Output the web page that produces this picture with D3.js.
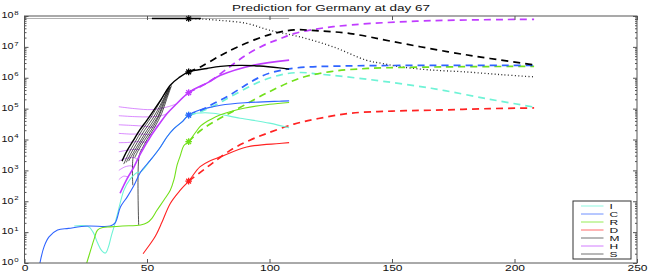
<!DOCTYPE html>
<html>
<head>
<meta charset="utf-8">
<title>Prediction for Germany at day 67</title>
<script src="https://cdn.jsdelivr.net/npm/d3@7"></script>
<style>
  * { margin: 0; padding: 0; }
  body { background: #fff; }
  svg { display: block; }
</style>
</head>
<body>
<script>
const title = 'Prediction for Germany at day 67'
const xTicks = [0, 50, 100, 150, 200, 250]
const yExps = [0, 1, 2, 3, 4, 5, 6, 7, 8]
const legendNames = ['I', 'C', 'R', 'D', 'M', 'H', 'S']
const markDay = 67

// observed / fitted curves, [day, count]
const iObs = [[20.3, 15.8], [26, 15.1], [28, 10], [29.8, 4.5], [31.5, 2.5], [33, 2.1], [34.2, 3.2], [35.5, 7.9], [37, 20], [38, 40], [40.6, 229], [43, 500], [46, 850], [47.4, 890], [51.4, 2140], [55, 5000], [58.2, 12300], [61, 22400], [64.3, 37200], [67, 61700], [72, 72400], [77, 70800], [88, 49000], [100, 33900], [108, 24000]]
const cObs = [[6.3, 1], [8, 3.4], [10, 7], [13.5, 11.7], [18, 13.2], [25.7, 15.8], [35, 15.8], [37, 20], [39.2, 66], [42, 141], [44.6, 316], [47.4, 890], [51.4, 2140], [55, 5000], [58.2, 12300], [61, 22400], [64.3, 37200], [67, 61700], [72, 93000], [77, 115000], [80, 129000], [90, 155000], [104, 174000], [108, 178000]]
const rObs = [[25.4, 1], [27, 2.6], [28.5, 6.3], [29.8, 11.7], [32, 14.1], [35, 14.8], [40, 15.8], [47.4, 17], [50, 20], [52, 28], [54, 50], [57, 112], [59.5, 229], [61, 500], [62.3, 1500], [63.6, 3000], [65, 6300], [67, 8500], [70, 17800], [72, 28000], [76, 44700], [80, 63000], [90, 105000], [100, 138000], [108, 158000]]
const dObs = [[48.4, 2], [52.7, 6], [54, 9.1], [56, 20], [59.5, 85], [63.6, 229], [67, 450], [71.7, 1320], [76, 2090], [80, 2750], [90.7, 5750], [104, 7400], [108, 7900]]
const mObs = [[39.8, 2000], [42, 4500], [44.5, 9500], [47, 20000], [50, 42700], [55.5, 186000], [59.5, 575000], [63, 1000000], [67, 1550000], [74.5, 2000000], [80, 2340000], [88, 2510000], [96, 2400000], [104, 2090000], [108, 1900000]]
const hObs = [[39, 182], [42, 562], [44.6, 1260], [47.4, 3550], [51.4, 12300], [55, 31600], [58.2, 69200], [62, 141000], [67, 331000], [75, 710000], [80, 1200000], [93, 2510000], [108, 3720000]]
const sObs = [[0, 8.3e7], [108, 8.3e7]]
const sFit = [[52, 8.3e7], [67, 8.3e7], [72, 8.3e7]]

// earlier fits (thin fans)
const mFan = [
  [[40.5, 1600], [42.5, 3500], [45, 8000], [48, 20000], [51.5, 50000], [55, 150000], [58.5, 450000]],
  [[41.5, 1800], [43.5, 3600], [46, 8000], [49, 20000], [52.5, 50000], [56, 160000], [59, 480000]],
  [[42.5, 2000], [44.5, 3800], [47, 8200], [50, 20000], [53.5, 52000], [56.5, 170000], [59, 480000]],
  [[44.2, 330], [44.4, 2800], [45.8, 4500], [48, 9000], [51, 21000], [54.5, 56000], [57, 180000], [59.5, 500000]],
  [[45, 2600], [46.5, 4500], [49, 9500], [52, 22000], [55, 60000], [57.5, 190000], [59.5, 500000]],
  [[46.6, 17], [46.8, 3000], [48, 5000], [50, 10000], [53, 24000], [56, 70000], [58, 200000], [60, 560000]]
]
const hFan = [
  [[38.5, 115000], [45, 100000], [52, 93000], [58, 112000], [62, 141000]],
  [[38.5, 59000], [45, 55000], [51, 54000], [55.5, 58000], [58.2, 69000]],
  [[38.5, 30000], [44, 28500], [49, 27000], [53, 25000], [55, 31600]],
  [[38.5, 15800], [43, 15000], [48, 15000], [51.5, 14500], [52.8, 18000]],
  [[38.5, 7900], [42, 8000], [46, 8500], [49.5, 8300], [50.8, 9800]],
  [[38.5, 4000], [42, 4500], [45.5, 4800], [48, 4500]],
  [[38.5, 2000], [41, 2400], [44.5, 2600], [46, 2300]],
  [[38.5, 1000], [41, 1300], [43.5, 1400], [44.6, 1260]],
  [[38.5, 500], [40.5, 650], [42.5, 600]]
]

// predictions from day 67
const iPred = [[67, 61700], [72, 80000], [78, 132000], [84, 240000], [96, 741000], [105, 1260000], [112.5, 1480000], [120, 1320000], [140, 891000], [166, 457000], [190, 200000], [208, 112000]]
const cPred = [[67, 61700], [72, 89000], [78, 158000], [84, 282000], [90, 562000], [95, 955000], [100, 1410000], [111, 2090000], [130, 2400000], [160, 2510000], [208, 2510000]]
const rPred = [[67, 8500], [72, 20000], [78, 40000], [86, 89000], [100, 355000], [113, 1000000], [125, 1580000], [140, 2000000], [170, 2240000], [208, 2340000]]
const dPred = [[67, 450], [72, 890], [77, 1780], [85, 5000], [92, 9500], [99, 15800], [110, 31600], [120, 47900], [133, 70800], [150, 83200], [167, 89100], [190, 100000], [208, 105000]]
const mPred = [[67, 1550000], [72, 2290000], [80, 5250000], [87, 1e7], [100, 2.5e7], [110, 3.55e7], [120, 3.3e7], [133, 2.7e7], [150, 1.5e7], [173, 6.9e6], [190, 4.2e6], [208, 2.6e6]]
const hPred = [[67, 331000], [75, 710000], [82, 1780000], [90.7, 5600000], [99, 1.26e7], [104, 1.78e7], [110, 2.7e7], [126, 4.5e7], [160, 6.8e7], [208, 7.8e7]]
const sPred = [[67, 8.3e7], [73, 7.9e7], [80, 7.2e7], [90.7, 5.75e7], [100, 3.47e7], [112.5, 2.1e7], [126, 1e7], [139.5, 3.7e6], [146, 2.9e6], [153, 2.3e6], [165, 1.8e6], [180, 1.55e6], [195, 1.25e6], [208, 1.07e6]]

const colors = { I: '#6ff3d6', C: '#2f64ff', R: '#72e01a', D: '#ff2222', M: '#000000', H: '#c03cff', S: '#000000' }
const legendColors = { I: '#8ff7e0', C: '#6f90ff', R: '#96ec55', D: '#ff6a6a', M: '#707070', H: '#d27cff', S: '#707070' }

var w = 654
var h = 273
var box = { l: 24.5, r: 637, t: 16, b: 263 }

var svg = d3.select('body').append('svg').attr('width', w).attr('height', h)
  .attr('font-family', '"Liberation Sans", Arial, sans-serif')

var x = d3.scaleLinear().domain([0, 250]).range([box.l, box.r])
var y = d3.scaleLog().domain([1, 1e8]).range([box.b, box.t])

var line = d3.line()
  .x(d => x(d[0]))
  .y(d => y(d[1]))
  .curve(d3.curveCatmullRom.alpha(0.5))

svg.append('clipPath').attr('id', 'clip')
  .append('rect').attr('x', box.l).attr('y', box.t - 1)
  .attr('width', box.r - box.l).attr('height', box.b - box.t + 1)

var plot = svg.append('g').attr('clip-path', 'url(#clip)')

function draw(data, color, width, dash, op) {
  plot.append('path')
    .datum(data)
    .attr('d', line)
    .attr('fill', 'none')
    .attr('stroke', color)
    .attr('stroke-width', width)
    .attr('stroke-dasharray', dash || null)
    .attr('stroke-linejoin', 'round')
    .attr('opacity', op || 1)
}

// thin fans of the earlier fits
hFan.forEach(f => draw(f, colors.H, 0.8, null, 0.75))
mFan.forEach(f => draw(f, colors.M, 0.8, null, 0.85))

// the gray susceptible line from the start
draw(sObs, '#9a9a9a', 0.8)

// predictions
var dash = '7,5'
draw(sPred, '#222', 1.3, '1,2.4')
draw(iPred, colors.I, 1.7, dash)
draw(dPred, colors.D, 1.7, dash)
draw(rPred, colors.R, 1.7, dash)
draw(cPred, colors.C, 1.7, dash)
draw(hPred, colors.H, 1.7, dash)
draw(mPred, colors.M, 1.7, dash)

// observed / fitted
draw(iObs, colors.I, 1.1)
draw(cObs, colors.C, 1.1)
draw(rObs, colors.R, 1.1)
draw(dObs, colors.D, 1.1)
draw(hObs, colors.H, 1.6)
draw(mObs, colors.M, 1.4)
draw(sFit, colors.S, 1.5)

// star markers at the prediction day
var star = {
  draw(ctx, size) {
    var r = Math.sqrt(size) / 2
    var q = r * 0.72
    ctx.moveTo(-r, 0); ctx.lineTo(r, 0)
    ctx.moveTo(0, -r); ctx.lineTo(0, r)
    ctx.moveTo(-q, -q); ctx.lineTo(q, q)
    ctx.moveTo(-q, q); ctx.lineTo(q, -q)
  }
}
var series = { I: iObs, C: cObs, R: rObs, D: dObs, M: mObs, H: hObs, S: sFit }
legendNames.forEach(k => {
  var p = series[k].find(d => d[0] === markDay)
  plot.append('path')
    .attr('d', d3.symbol(star, 44)())
    .attr('transform', `translate(${x(p[0])},${y(p[1])})`)
    .attr('fill', 'none')
    .attr('stroke', colors[k])
    .attr('stroke-width', 1.3)
})

// axes
var axisColor = '#555'
function tickAxis(a, tx, ty) {
  var g = svg.append('g').attr('transform', `translate(${tx},${ty})`).call(a)
  g.select('.domain').remove()
  g.selectAll('line').attr('stroke', axisColor)
  return g
}
var minor = []
yExps.slice(0, -1).forEach(e => { for (var m = 2; m <= 9; m++) minor.push(m * Math.pow(10, e)) })
var major = yExps.map(e => Math.pow(10, e))

var xb = tickAxis(d3.axisBottom(x).tickValues(xTicks).tickSize(-4).tickPadding(2.5), 0, box.b)
xb.selectAll('text')
  .attr('font-size', 8.3)
  .attr('fill', '#111')
  .attr('transform', 'scale(1.45,1)')
tickAxis(d3.axisTop(x).tickValues(xTicks).tickSize(-4).tickFormat(''), 0, box.t)
tickAxis(d3.axisLeft(y).tickValues(major).tickSize(-4).tickFormat(''), box.l, 0)
tickAxis(d3.axisLeft(y).tickValues(minor).tickSize(-2).tickFormat(''), box.l, 0)
tickAxis(d3.axisRight(y).tickValues(major).tickSize(-4).tickFormat(''), box.r, 0)
tickAxis(d3.axisRight(y).tickValues(minor).tickSize(-2).tickFormat(''), box.r, 0)

svg.append('rect')
  .attr('x', box.l).attr('y', box.t)
  .attr('width', box.r - box.l).attr('height', box.b - box.t)
  .attr('fill', 'none').attr('stroke', axisColor).attr('stroke-width', 1)

// y labels 10^n
var yl = svg.append('g').attr('fill', '#111')
yExps.forEach(e => {
  var py = y(Math.pow(10, e))
  yl.append('text')
    .attr('transform', `translate(13.5,${py + 2.3}) scale(1.3,1)`)
    .attr('text-anchor', 'end')
    .attr('font-size', 8.3)
    .text('10')
  yl.append('text')
    .attr('transform', `translate(14.3,${py - 1.3}) scale(1.3,1)`)
    .attr('font-size', 6)
    .text(e)
})

// title
svg.append('text')
  .attr('x', 232).attr('y', 10.8)
  .attr('font-size', 8.6)
  .attr('fill', '#111')
  .attr('textLength', 198)
  .attr('lengthAdjust', 'spacingAndGlyphs')
  .text(title)

// legend
var lg = { l: 573, r: 631, t: 201, b: 259 }
var legend = svg.append('g')
legend.append('rect')
  .attr('x', lg.l).attr('y', lg.t)
  .attr('width', lg.r - lg.l).attr('height', lg.b - lg.t)
  .attr('fill', '#fff').attr('stroke', '#333').attr('stroke-width', 1)
legendNames.forEach((k, i) => {
  var ly = lg.t + 5 + i * 8
  legend.append('line')
    .attr('x1', 581).attr('x2', 603.5)
    .attr('y1', ly).attr('y2', ly)
    .attr('stroke', legendColors[k]).attr('stroke-width', 1)
  legend.append('text')
    .attr('transform', `translate(609.5,${ly + 3.2}) scale(1.5,1)`)
    .attr('font-size', 8)
    .attr('fill', '#111')
    .text(k)
})
</script>
</body>
</html>
